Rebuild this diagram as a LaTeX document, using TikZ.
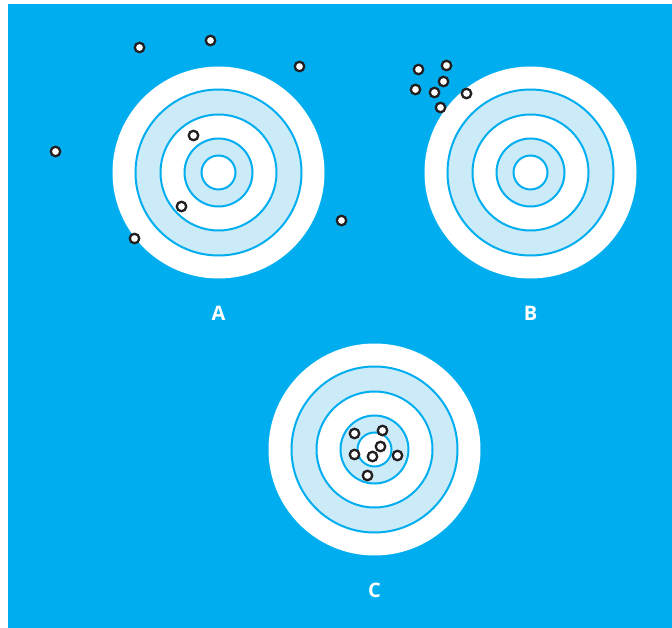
\documentclass[tikz,border=0pt]{standalone}
\usepackage{fontspec}
\setmainfont{Open Sans}
\definecolor{bgblue}{HTML}{00AEEF}
\definecolor{pale}{HTML}{CCEBF9}
\definecolor{ink}{HTML}{231F20}
\tikzset{
  ring/.style={draw=bgblue, line width=2pt},
  hit/.style={circle, draw=ink, fill=white, line width=2.3pt, minimum size=9.5pt, inner sep=0pt},
  lab/.style={text=white, font=\bfseries\fontsize{20}{20}\selectfont}
}
\newcommand{\mytarget}[2]{%
  \fill[white] (#1,#2) circle (106);
  \filldraw[ring, fill=pale] (#1,#2) circle (83);
  \filldraw[ring, fill=white] (#1,#2) circle (58);
  \filldraw[ring, fill=pale] (#1,#2) circle (34);
  \filldraw[ring, fill=white] (#1,#2) circle (17);
}
\begin{document}
\begin{tikzpicture}[x=1pt, y=-1pt]
\useasboundingbox (0,0) rectangle (672,628);
\fill[white] (0,0) rectangle (672,628);
\fill[bgblue] (8,4) rectangle (672,628);
\mytarget{218.5}{172.5}
\mytarget{530.5}{172.5}
\mytarget{374.5}{449.5}
% A
\node[hit] (a1) at (139.5,47.5) {};
\node[hit] (a2) at (210.5,40.5) {};
\node[hit] (a3) at (299.5,66.5) {};
\node[hit] (a4) at (55.5,151.5) {};
\node[hit] (a5) at (193.5,135.5) {};
\node[hit] (a6) at (181.5,206.5) {};
\node[hit] (a7) at (134.5,238.5) {};
\node[hit] (a8) at (341.5,220.5) {};
% B
\node[hit] (b1) at (418.5,69.5) {};
\node[hit] (b2) at (446.5,65.5) {};
\node[hit] (b3) at (443.5,81.5) {};
\node[hit] (b4) at (415.5,89.5) {};
\node[hit] (b5) at (434.5,92.5) {};
\node[hit] (b6) at (466.5,93.5) {};
\node[hit] (b7) at (440.5,107.5) {};
% C
\node[hit] (c1) at (354.5,433.5) {};
\node[hit] (c2) at (382.5,430.5) {};
\node[hit] (c3) at (380.5,446.5) {};
\node[hit] (c4) at (354.5,454.5) {};
\node[hit] (c5) at (372.5,456.5) {};
\node[hit] (c6) at (397.5,455.5) {};
\node[hit] (c7) at (367.5,475.5) {};
% labels
\node[lab] (la) at (218.5,313.5) {A};
\node[lab] (lb) at (530.5,313.5) {B};
\node[lab] (lc) at (374.5,590.5) {C};
\end{tikzpicture}
\end{document}
